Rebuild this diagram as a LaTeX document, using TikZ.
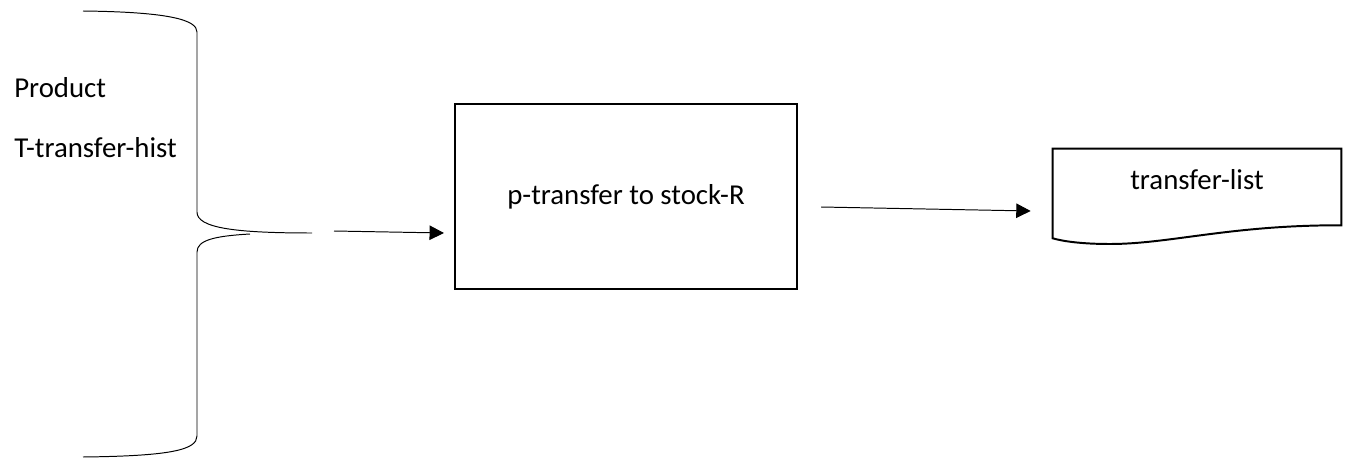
\documentclass[tikz,border=0pt]{standalone}
\usepackage{fontspec}
\setmainfont{Carlito}
\usetikzlibrary{arrows.meta,positioning,calc}

\begin{document}
\begin{tikzpicture}[x=0.025cm, y=-0.025cm, >={Triangle[length=3.6mm, width=3.6mm]},
  txt/.style={font=\fontsize{20.5}{24}\selectfont, inner sep=0pt},
  flow/.style={->, line width=0.7pt},
  process/.style={draw, line width=1.4pt, minimum width=8.55cm, minimum height=4.625cm, txt},
  docbox/.style={minimum width=7.2cm, minimum height=1.55cm, txt}]

\useasboundingbox (0,0) rectangle (1351,460);

% Inputs
\node[txt, anchor=base west] (product) at (14,97) {Product};
\node[txt, anchor=base west] (hist) at (14,157) {T-transfer-hist};

% Brace
\coordinate (tip) at (312,233);
\draw[line width=0.7pt] (83,11) .. controls (170,12) and (197,20) .. (197,32) -- (197,212)
  .. controls (197,228) and (235,233) .. (tip);
\draw[line width=0.7pt] (250,234) .. controls (215,236) and (197,240) .. (197,252) -- (197,436)
  .. controls (197,450) and (170,456) .. (83,457);

% Process
\node[process] (transfer) at (626,196.5) {p-transfer to stock-R};

% Document
\node[docbox] (list) at (1197,180) {transfer-list};
\draw[line width=1.4pt] (list.north west) -- (list.north east) -- ($(list.south east)+(0,14)$)
  .. controls (1230,225) and (1170,244) .. (1110,244)
  .. controls (1080,244) and (1062,241) .. ($(list.south west)+(0,27)$) -- cycle;

% Arrows
\coordinate (in) at ($(tip)+(22,-2)$);
\coordinate (out) at ($(transfer.east)+(23,10.5)$);
\draw[flow] (in) -- ($(transfer.west)+(-10,36.5)$);
\draw[flow] (out) -- ($(list.west)+(-22,31)$);

\end{tikzpicture}
\end{document}
